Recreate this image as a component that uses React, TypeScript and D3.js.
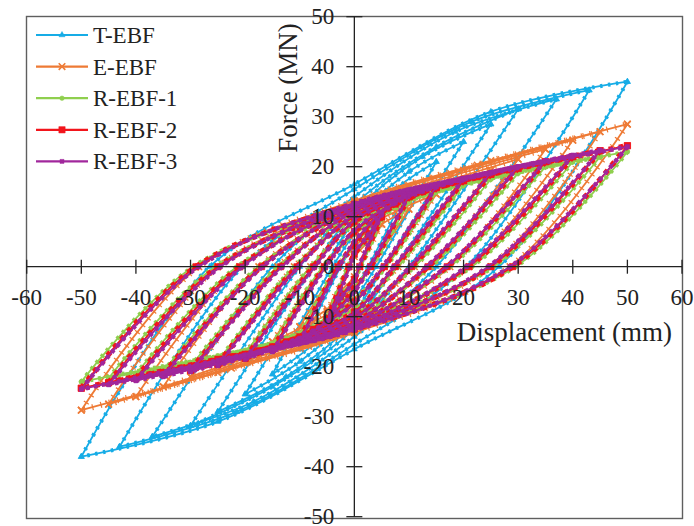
import React from 'react';
import * as d3 from 'd3';

const W = 694;
const H = 526;

// one row per loop: [amplitude mm, peak +F, peak -F, zero-force crossing on unloading, |F| at d=0 on reloading, |F| at half amplitude]
const tEbfLoops = [
  [5, 10, -10.5, 1, 2.2, 6.5],
  [10, 16, -16.5, 2.5, 4.5, 11],
  [15, 21, -21.5, 4, 6.5, 15.5],
  [20, 25, -25.5, 5.5, 9, 19],
  [25, 28.5, -29, 7.5, 11, 22],
  [30, 31.5, -31.8, 10, 12.5, 24],
  [37, 33.5, -34, 15, 14, 27],
  [43, 35.3, -36, 20.5, 15.5, 29],
  [50, 37, -38, 26.5, 16.5, 31],
];
const eEbfLoops = [
  [5, 8.5, -9, 1, 2, 5],
  [10, 11.5, -12, 3, 4, 8.5],
  [15, 14.5, -15, 5.5, 6.5, 11],
  [20, 17, -17.5, 8, 8.5, 13],
  [25, 19.3, -20, 11, 10, 14.8],
  [30, 21.5, -22, 14, 11, 16.5],
  [35, 23.5, -24, 17.5, 11.8, 18],
  [40, 25.3, -26, 21, 12.3, 19.3],
  [45, 27, -27.5, 25, 12.8, 20.3],
  [50, 28.5, -28.7, 28.5, 13.2, 21.2],
];
const rEbf1Loops = [
  [5, 9.5, -10, 1.2, 2.3, 5.7],
  [10, 13, -13.5, 3.2, 4.3, 10],
  [15, 15, -15.5, 5.8, 6.7, 12],
  [20, 16.3, -17.5, 8, 8.5, 13.3],
  [25, 17.5, -19, 11, 9.5, 14.3],
  [30, 18.7, -20, 14, 10.3, 15.3],
  [35, 20, -21, 17.5, 11, 16],
  [40, 21, -21.5, 21.5, 11.3, 16.7],
  [45, 22, -22.3, 25.5, 11.5, 17.3],
  [50, 23, -23, 29.5, 12, 17.8],
];
const rEbf2Loops = [
  [5, 10, -10.5, 1, 2.5, 6],
  [10, 14, -14.5, 3, 4.5, 10.5],
  [15, 15.8, -16.5, 5.5, 7, 12.5],
  [20, 17.2, -18.3, 7.5, 9, 14],
  [25, 18.5, -19.5, 10.5, 10, 15],
  [30, 19.7, -20.7, 13.5, 11, 16],
  [35, 21, -21.5, 17, 11.5, 16.8],
  [40, 22, -22.3, 21, 12, 17.5],
  [45, 23.2, -23.2, 25, 12, 18],
  [50, 24.2, -24.3, 29, 12.5, 18.5],
];
const rEbf3Loops = [
  [5, 10.5, -11, 0.8, 2.8, 6.3],
  [10, 14.3, -15, 2.8, 5, 10.8],
  [15, 16, -17, 5.2, 7.3, 12.8],
  [20, 17.5, -18.5, 7.2, 9.3, 14.3],
  [25, 18.8, -19.8, 10.2, 10.3, 15.2],
  [30, 20, -21, 13.2, 11.2, 16.2],
  [35, 21.2, -22, 16.8, 11.7, 17],
  [40, 22.3, -22.8, 20.5, 12.2, 17.7],
  [45, 23.3, -23.6, 24.5, 12.4, 18.3],
  [50, 24, -24.5, 28.5, 12.7, 18.7],
];

const seriesNames = ['T-EBF', 'E-EBF', 'R-EBF-1', 'R-EBF-2', 'R-EBF-3'];
const xTicks = [-60, -50, -40, -30, -20, -10, 0, 10, 20, 30, 40, 50, 60];
const yTicks = [-50, -40, -30, -20, -10, 0, 10, 20, 30, 40, 50];

const styles = [
  { loops: tEbfLoops, color: '#16ACE6', symbol: d3.symbolTriangle, size: 16, dotW: 4, dash: '2.5 5.5' },
  { loops: eEbfLoops, color: '#EE7A35', symbol: d3.symbolTimes, size: 30, dotW: 6, dash: '1.2 7.5' },
  { loops: rEbf1Loops, color: '#8FCF4E', symbol: d3.symbolCircle, size: 16, dotW: 4.5, dash: '3 5' },
  { loops: rEbf2Loops, color: '#F2151C', symbol: d3.symbolSquare, size: 40, dotW: 5.5, dash: '4.5 6' },
  { loops: rEbf3Loops, color: '#A1279C', symbol: d3.symbolSquare, size: 16, dotW: 4.5, dash: '3.5 4.5' },
];

const x = d3.scaleLinear().domain([-60, 60]).range([26.7, 682]);
const y = d3.scaleLinear().domain([-50, 50]).range([516.7, 16.7]);

const line = d3
  .line<number[]>()
  .x((d) => x(d[0]))
  .y((d) => y(d[1]))
  .curve(d3.curveCatmullRom.alpha(0.5));

// each loop = unloading from +peak to -peak, then back to +peak
const halves = (row: number[]) => {
  const [a, pp, pn, z, f0, fh] = row;
  return [
    [[a, pp], [z, 0], [0, -f0], [-a / 2, -fh], [-a, pn]],
    [[-a, pn], [-z, 0], [0, f0], [a / 2, fh], [a, pp]],
  ];
};

const Marker = ({ s, cx, cy }: any) => {
  const stroked = s.symbol === d3.symbolTimes;
  return (
    <path
      d={d3.symbol(s.symbol, s.size)() as string}
      transform={`translate(${cx},${cy})`}
      fill={stroked ? 'none' : s.color}
      stroke={s.color}
      strokeWidth={stroked ? 1.6 : 0.5}
    />
  );
};

const FONT = 'Liberation Serif, DejaVu Serif, serif';

const App = () => {
  return (
    <svg width={W} height={H} style={{ position: 'absolute', left: 0, top: 0 }} fontFamily={FONT}>
      <rect width={W} height={H} fill="#fff" />
      <rect x={26.5} y={16.5} width={656} height={502} fill="none" stroke="#5f5f5f" strokeWidth={1.4} />

      {styles.map((s, si) => (
        <g key={si}>
          {s.loops.map((row, li) =>
            halves(row).map((pts, hi) => (
              <g key={`${li}-${hi}`}>
                <path d={line(pts) as string} fill="none" stroke={s.color} strokeWidth={1.8} />
                <path
                  d={line(pts) as string}
                  fill="none"
                  stroke={s.color}
                  strokeWidth={s.dotW}
                  strokeDasharray={s.dash}
                />
                {pts.map((p, pi) => (
                  <Marker key={pi} s={s} cx={x(p[0])} cy={y(p[1])} />
                ))}
              </g>
            ))
          )}
        </g>
      ))}

      {/* axes through the origin */}
      <line x1={x(-60)} x2={x(60)} y1={y(0)} y2={y(0)} stroke="#222" strokeWidth={1.3} />
      <line x1={x(0)} x2={x(0)} y1={y(-50)} y2={y(50)} stroke="#222" strokeWidth={1.3} />
      {xTicks.map((t) => (
        <g key={`x${t}`}>
          <line x1={x(t)} x2={x(t)} y1={y(0) - 7} y2={y(0) + 7} stroke="#222" strokeWidth={1.3} />
          <text x={x(t)} y={y(0) + 38} textAnchor="middle" fontSize={23} fill="#222">
            {t}
          </text>
        </g>
      ))}
      {yTicks.map((t) => (
        <g key={`y${t}`}>
          <line x1={x(0) - 8} x2={x(0) + 8} y1={y(t)} y2={y(t)} stroke="#222" strokeWidth={1.3} />
          <text x={x(0) - 20} y={y(t) + 7} textAnchor="end" fontSize={23} fill="#222">
            {t}
          </text>
        </g>
      ))}

      <text x={672} y={341} textAnchor="end" fontSize={27} fill="#222">
        Displacement (mm)
      </text>
      <text transform="translate(297,88) rotate(-90)" textAnchor="middle" fontSize={27} fill="#222">
        Force (MN)
      </text>

      {/* legend */}
      {seriesNames.map((name, i) => {
        const ly = 35 + i * 31.6;
        const s = styles[i];
        return (
          <g key={name}>
            <line x1={36} x2={88} y1={ly} y2={ly} stroke={s.color} strokeWidth={2.2} />
            <Marker s={s} cx={62} cy={ly} />
            <text x={93} y={ly + 8} fontSize={23} fill="#222">
              {name}
            </text>
          </g>
        );
      })}
    </svg>
  );
};

export default App;
